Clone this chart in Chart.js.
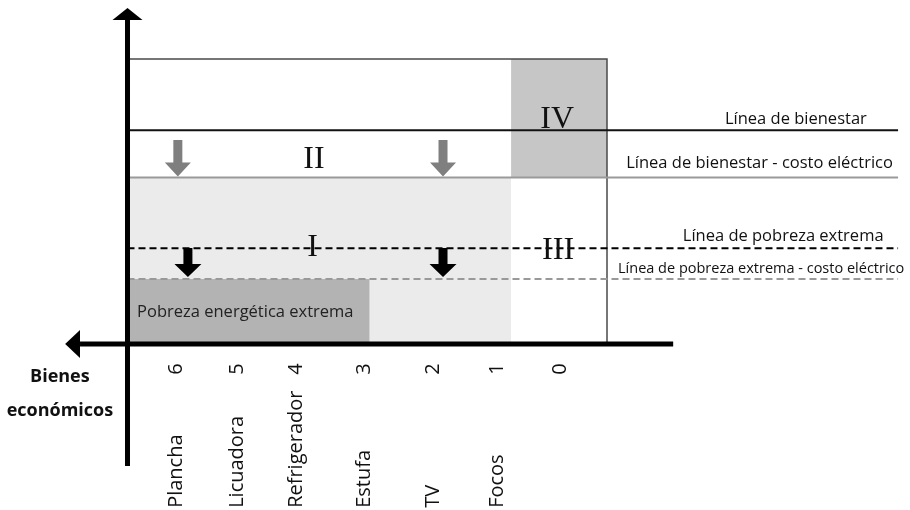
<!DOCTYPE html>
<html lang="es">
<head>
    <meta charset="UTF-8">
    <title>Pobreza energética</title>
    <script src="https://cdn.jsdelivr.net/npm/chart.js"></script>
    <style>
        body {
            margin: 0;
            background: #ffffff;
        }

        #diagram {
            display: block;
        }
    </style>
</head>
<body>
    <canvas id="diagram" width="910" height="510"></canvas>

    <script>
        // Bienes económicos (eje horizontal, de más a menos bienes)
        const goods = ['Plancha', 'Licuadora', 'Refrigerador', 'Estufa', 'TV', 'Focos'];
        const goodsCount = [6, 5, 4, 3, 2, 1, 0];
        const goodsPos = [10.1, 22.8, 35.1, 49.3, 63.7, 77.1, 90.2];

        // Niveles de ingreso (eje vertical)
        const boxTop = 100;
        const welfareLine = 75;
        const welfareMinusCost = 58.4;
        const extremeLine = 33.6;
        const extremeMinusCost = 22.8;

        // Límites horizontales de las zonas
        const boxRight = 100;
        const zoneOneRight = 80;
        const energyPovertyRight = 50.5;
        const linesEnd = 160.7;
        const axisEnd = 113.8;

        // Flechas de desplazamiento
        const greyArrowX = [10.5, 65.8];
        const greyArrowFrom = 71.6;
        const blackArrowX = [12.6, 65.8];
        const blackArrowFrom = 33.7;

        const lineLabels = [
            'Línea de bienestar',
            'Línea de bienestar - costo eléctrico',
            'Línea de pobreza extrema',
            'Línea de pobreza extrema - costo eléctrico'
        ];
        const zoneLabels = ['I', 'II', 'III', 'IV'];

        // where things go on the drawing (data units)
        const lineLabelPos = [
            { x: 124.6, y: 77.2, size: 16.5 },
            { x: 104.0, y: 61.75, size: 16.5 },
            { x: 115.8, y: 36.1, size: 16.5 },
            { x: 102.3, y: 25.0, size: 14.5 }
        ];
        const zoneLabelPos = [
            { x: 38.6, y: 30.9 },
            { x: 38.9, y: 61.75 },
            { x: 89.8, y: 29.8 },
            { x: 89.6, y: 75.8 }
        ];

        const SANS = '"Open Sans", sans-serif';
        const SERIF = '"Liberation Serif", "DejaVu Serif", serif';

        function hLine(y0, x0, x1) {
            return [{ x: x0, y: y0 }, { x: x1, y: y0 }];
        }

        function plain(data, color, width, order, extra) {
            return Object.assign({
                data: data,
                borderColor: color,
                borderWidth: width,
                pointRadius: 0,
                fill: false,
                tension: 0,
                order: order
            }, extra || {});
        }

        function drawDownArrow(ctx, cx, top, tip, shaftW, headW, headL, color) {
            const base = tip - headL;
            ctx.fillStyle = color;
            ctx.beginPath();
            ctx.moveTo(cx - shaftW / 2, top);
            ctx.lineTo(cx + shaftW / 2, top);
            ctx.lineTo(cx + shaftW / 2, base);
            ctx.lineTo(cx + headW / 2, base);
            ctx.lineTo(cx, tip);
            ctx.lineTo(cx - headW / 2, base);
            ctx.lineTo(cx - shaftW / 2, base);
            ctx.closePath();
            ctx.fill();
        }

        const diagramPlugin = {
            id: 'diagram',
            afterDatasetsDraw(chart) {
                const ctx = chart.ctx;
                const px = v => chart.scales.x.getPixelForValue(v);
                const py = v => chart.scales.y.getPixelForValue(v);
                ctx.save();

                // axis arrowheads
                ctx.fillStyle = '#000';
                ctx.beginPath();
                ctx.moveTo(px(0), py(117.9));
                ctx.lineTo(px(0) + 15, py(113.7));
                ctx.lineTo(px(0) - 15, py(113.7));
                ctx.closePath();
                ctx.fill();
                ctx.beginPath();
                ctx.moveTo(px(-13.0), py(0));
                ctx.lineTo(px(-9.9), py(0) - 14);
                ctx.lineTo(px(-9.9), py(0) + 14);
                ctx.closePath();
                ctx.fill();

                // downward shifts
                greyArrowX.forEach(v => {
                    drawDownArrow(ctx, px(v), py(greyArrowFrom), py(welfareMinusCost) - 1, 9, 26, 14, '#7f7f7f');
                });
                blackArrowX.forEach(v => {
                    drawDownArrow(ctx, px(v), py(blackArrowFrom), py(extremeMinusCost) - 2, 9, 27, 13, '#000');
                });

                // roman numerals
                ctx.fillStyle = '#111';
                ctx.font = '32px ' + SERIF;
                ctx.textAlign = 'center';
                ctx.textBaseline = 'alphabetic';
                zoneLabels.forEach((t, i) => {
                    ctx.fillText(t, px(zoneLabelPos[i].x), py(zoneLabelPos[i].y));
                });

                // line names on the right
                ctx.textAlign = 'left';
                lineLabels.forEach((t, i) => {
                    const p = lineLabelPos[i];
                    ctx.font = p.size + 'px ' + SANS;
                    ctx.fillText(t, px(p.x), py(p.y));
                });

                ctx.fillStyle = '#222';
                ctx.font = '16.5px ' + SANS;
                ctx.fillText('Pobreza energética extrema', px(2.0), py(9.5));

                // axis title
                ctx.fillStyle = '#111';
                ctx.font = 'bold 18px ' + SANS;
                ctx.textAlign = 'center';
                ctx.fillText('Bienes', px(-14.1), py(-13.3));
                ctx.fillText('económicos', px(-14.1), py(-25.3));

                // goods and counts, rotated
                ctx.font = '20px ' + SANS;
                goodsCount.forEach((n, i) => {
                    ctx.save();
                    ctx.translate(px(goodsPos[i]), py(-8.8));
                    ctx.rotate(-Math.PI / 2);
                    ctx.textAlign = 'center';
                    ctx.textBaseline = 'middle';
                    ctx.fillText(String(n), 0, 0);
                    ctx.restore();
                });
                goods.forEach((g, i) => {
                    ctx.save();
                    ctx.translate(px(goodsPos[i]), py(-57.5));
                    ctx.rotate(-Math.PI / 2);
                    ctx.textAlign = 'left';
                    ctx.textBaseline = 'middle';
                    ctx.fillText(g, 0, 0);
                    ctx.restore();
                });

                ctx.restore();
            }
        };

        const datasets = [
            // axes
            plain(hLine(0, -9.9, axisEnd), '#000', 5, 0),
            plain([{ x: 0, y: -42.8 }, { x: 0, y: 113.7 }], '#000', 5, 0),
            // income lines
            plain(hLine(welfareLine, 0, linesEnd), '#111', 2, 2),
            plain(hLine(welfareMinusCost, 0, linesEnd), '#9a9a9a', 2, 2),
            plain(hLine(extremeLine, 0, linesEnd), '#000', 2, 2, { borderDash: [7, 4] }),
            plain(hLine(extremeMinusCost, 0, linesEnd), '#999', 2, 2, { borderDash: [7, 4] }),
            // frame of the diagram
            plain([{ x: 0, y: boxTop }, { x: boxRight, y: boxTop }, { x: boxRight, y: 0 }], '#4a4a4a', 1.5, 3),
            // zones
            plain(hLine(extremeMinusCost, 0, energyPovertyRight), 'rgba(0,0,0,0)', 0, 5,
                { fill: 'origin', backgroundColor: '#b3b3b3' }),
            plain(hLine(boxTop, zoneOneRight, boxRight), 'rgba(0,0,0,0)', 0, 6,
                { fill: { value: welfareMinusCost }, backgroundColor: '#c6c6c6' }),
            plain(hLine(welfareMinusCost, 0, zoneOneRight), 'rgba(0,0,0,0)', 0, 7,
                { fill: 'origin', backgroundColor: '#ebebeb' })
        ];

        new Chart(document.getElementById('diagram'), {
            type: 'line',
            data: { datasets: datasets },
            options: {
                responsive: false,
                animation: false,
                events: [],
                layout: { padding: 0 },
                plugins: {
                    legend: { display: false },
                    tooltip: { enabled: false }
                },
                scales: {
                    x: { type: 'linear', display: false, min: -26.59, max: 163.19 },
                    y: { type: 'linear', display: false, min: -58.25, max: 120.70 }
                }
            },
            plugins: [diagramPlugin]
        });
    </script>
</body>
</html>
